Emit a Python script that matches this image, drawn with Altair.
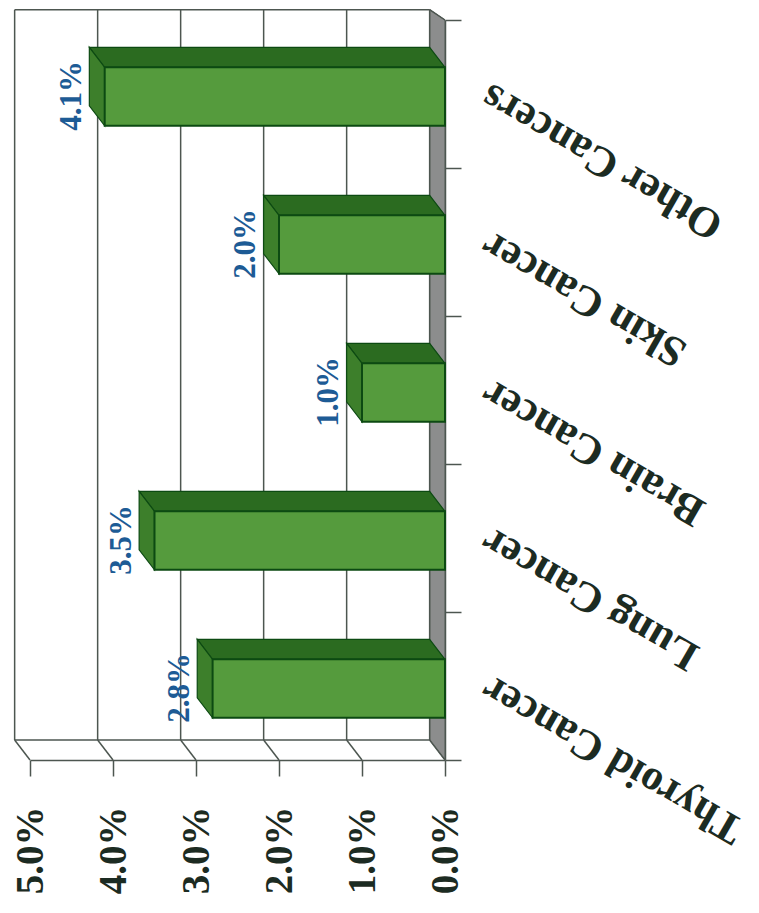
import altair as alt
import pandas as pd

categories = ["Other Cancers", "Skin Cancer", "Brain Cancer", "Lung Cancer", "Thyroid Cancer"]
values = [4.1, 2.0, 1.0, 3.5, 2.8]
value_labels = ["4.1%", "2.0%", "1.0%", "3.5%", "2.8%"]
value_ticks = [0, 1, 2, 3, 4, 5]
slot_ticks = [0, 1, 2, 3, 4, 5]

DX = 0.185     # depth of the 3-D box in value units
DY = 0.135     # depth of the 3-D box in category-slot units
WALL_TOP = -0.07       # upper end of the back wall, kept inside the page
B0, B1 = 0.32, 0.715   # bar extent within its slot

FONT = "Liberation Serif"
LINE = "#4d5650"
FRONT = "#559b3d"
TOP = "#2b6b20"
SIDE = "#3d7f2b"
EDGE = "#0c4a12"

xs = alt.Scale(domain=[5, 0], nice=False, zero=False)
ys = alt.Scale(domain=[0, 5], reverse=True, nice=False, zero=False)
X = lambda f="x": alt.X(f"{f}:Q", scale=xs, axis=None)
Y = lambda f="y": alt.Y(f"{f}:Q", scale=ys, axis=None)

# side wall strip at value 0
wall = pd.DataFrame([
    {"x": DX, "y": WALL_TOP, "y2": 5 - DY},
    {"x": 0, "y": 0, "y2": 5},
])
wall_layer = alt.Chart(wall).mark_area(orient="vertical", color="#8c8d8d", stroke=LINE, strokeWidth=1).encode(
    x=X(), y=Y(), y2="y2:Q")

# back wall gridlines, floor diagonals, frame
lines = []
for v in value_ticks:
    lines.append({"x": v + DX, "x2": v + DX, "y": WALL_TOP, "y2": 5 - DY})
    lines.append({"x": v + DX, "x2": v, "y": 5 - DY, "y2": 5})
lines.append({"x": 5 + DX, "x2": DX, "y": WALL_TOP, "y2": WALL_TOP})
lines.append({"x": 5 + DX, "x2": DX, "y": 5 - DY, "y2": 5 - DY})
lines.append({"x": DX, "x2": 0, "y": WALL_TOP, "y2": 0})
grid_layer = alt.Chart(pd.DataFrame(lines)).mark_rule(color=LINE, strokeWidth=1.5).encode(
    x=X(), x2="x2:Q", y=Y(), y2="y2:Q")

# real axes
axis_df = pd.DataFrame({"x": value_ticks, "y": [5] * len(value_ticks)})
x_axis_layer = alt.Chart(axis_df).mark_point(opacity=0).encode(
    x=alt.X("x:Q", scale=xs, title=None, axis=alt.Axis(
        orient="bottom", values=value_ticks, grid=False, tickSize=16, tickWidth=1.5, tickColor=LINE,
        domainColor=LINE, domainWidth=1.5, labelAngle=270, labelAlign="right", labelBaseline="middle",
        labelPadding=30, labelFont=FONT, labelFontSize=39, labelFontWeight="bold", labelColor="#1c2b22",
        labelExpr="format(datum.value, '.1f') + '%'", labelOverlap=False)),
    y=alt.Y("y:Q", scale=ys, title=None, axis=alt.Axis(
        orient="right", values=slot_ticks, grid=False, tickSize=16, tickWidth=1.5, tickColor=LINE,
        domainColor=LINE, domainWidth=1.5, labels=False)),
)

# 3-D bars
top_rows, side_rows, front_rows = [], [], []
for i, (c, v) in enumerate(zip(categories, values)):
    a, b = i + B0, i + B1
    for x, y, y2 in [(v + DX, a - DY, a - DY), (v, a - DY, a), (DX, a - DY, a), (0, a, a)]:
        top_rows.append({"c": c, "x": x, "y": y, "y2": y2})
    for x, y, y2 in [(v + DX, a - DY, b - DY), (v, a, b)]:
        side_rows.append({"c": c, "x": x, "y": y, "y2": y2})
    front_rows.append({"c": c, "x": v, "x2": 0, "y": a, "y2": b})

top_layer = alt.Chart(pd.DataFrame(top_rows)).mark_area(
    orient="vertical", color=TOP, stroke=EDGE, strokeWidth=1.2).encode(
    x=X(), y=Y(), y2="y2:Q", detail="c:N")
side_layer = alt.Chart(pd.DataFrame(side_rows)).mark_area(
    orient="vertical", color=SIDE, stroke=EDGE, strokeWidth=1.2).encode(
    x=X(), y=Y(), y2="y2:Q", detail="c:N")
front_layer = alt.Chart(pd.DataFrame(front_rows)).mark_rect(
    color=FRONT, stroke=EDGE, strokeWidth=2).encode(
    x=X(), x2="x2:Q", y=Y(), y2="y2:Q")

# value labels
label_df = pd.DataFrame({
    "x": [v + DX + 0.21 for v in values],
    "y": [i + (B0 + B1) / 2 - 0.005 for i in range(len(values))],
    "t": value_labels,
})
label_layer = alt.Chart(label_df).mark_text(
    font=FONT, fontSize=31, fontWeight="bold", color="#1d5b95", angle=270,
    align="center", baseline="middle").encode(x=X(), y=Y(), text="t:N")

# category labels
cat_df = pd.DataFrame({
    "x": [-0.48] * len(categories),
    "y": [i + 0.5 for i in range(len(categories))],
    "t": categories,
})
cat_layer = alt.Chart(cat_df).mark_text(
    font=FONT, fontSize=43, fontWeight="bold", color="#1c2b22", angle=210,
    align="right", baseline="middle").encode(x=X(), y=Y(), text="t:N")

chart = alt.layer(
    wall_layer, grid_layer, x_axis_layer, top_layer, side_layer, front_layer, label_layer, cat_layer
).resolve_axis(x="independent", y="independent").properties(
    width=415, height=740,
    padding={"left": 22, "top": 12, "right": 306, "bottom": 145},
    autosize=alt.AutoSizeParams(type="none"),
    background="#ffffff",
).configure_view(stroke=None)

chart.save("out.html", embed_options={"renderer": "svg", "actions": False})
